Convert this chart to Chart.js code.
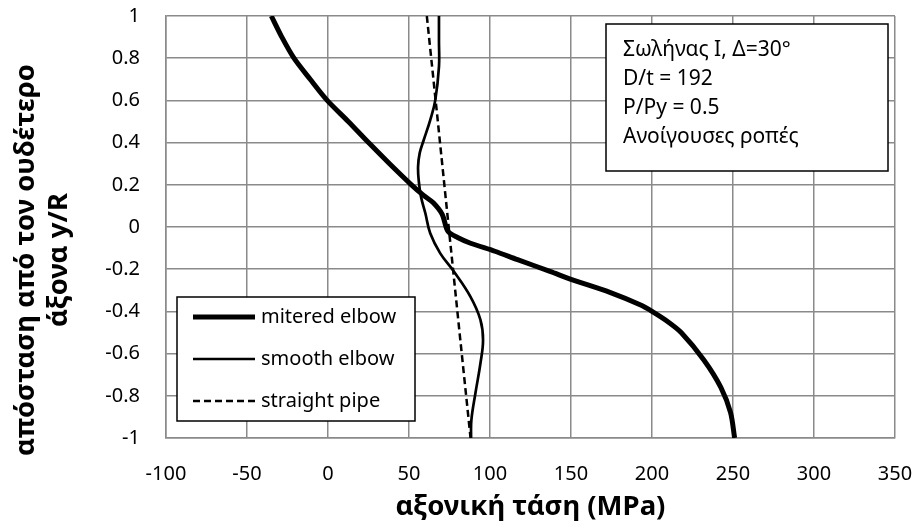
<!DOCTYPE html>
<html>
<head>
<meta charset="utf-8">
<script src="https://cdn.jsdelivr.net/npm/chart.js@4.4.1/dist/chart.umd.min.js"></script>
<style>
  html, body { margin: 0; padding: 0; background: #fff; }
  canvas { display: block; }
</style>
</head>
<body>
<canvas id="stress" width="915" height="529"></canvas>
<script>
// axial stress (MPa) along the section depth y/R
const miteredX = [-35, -28.5, -21, -11, -0.5, 12.5, 25, 38, 51.5, 59, 65, 70.5, 74, 80, 88, 103, 117, 137, 150, 174, 193, 200, 210, 218, 232, 242.5, 248.5, 251];
const miteredY = [1, 0.9, 0.8, 0.7, 0.6, 0.5, 0.4, 0.3, 0.2, 0.15, 0.115, 0.06, -0.02, -0.05, -0.077, -0.115, -0.155, -0.21, -0.248, -0.31, -0.37, -0.4, -0.45, -0.5, -0.63, -0.76, -0.88, -1];

const smoothX = [68.5, 68.5, 68.5, 66.2, 63.1, 59, 56.6, 55.6, 56, 57.4, 60.1, 63.1, 69.3, 77.6, 87.9, 94.1, 95.7, 94.1, 91, 88.5, 88.3];
const smoothY = [1, 0.88, 0.76, 0.6, 0.507, 0.41, 0.35, 0.286, 0.22, 0.144, 0.065, -0.03, -0.125, -0.21, -0.33, -0.44, -0.536, -0.646, -0.788, -0.915, -1];

const straightX = [61, 67.8, 74.5, 81.2, 88];
const straightY = [1, 0.5, 0, -0.5, -1];

const xTickValues = [-100, -50, 0, 50, 100, 150, 200, 250, 300, 350];
const yTickValues = [-1, -0.8, -0.6, -0.4, -0.2, 0, 0.2, 0.4, 0.6, 0.8, 1];

const seriesNames = ["mitered elbow", "smooth elbow", "straight pipe"];
const infoLines = ["Σωλήνας I, Δ=30°", "D/t = 192", "P/Py = 0.5", "Ανοίγουσες ροπές"];
const xTitle = "αξονική τάση (MPa)";
const yTitle = ["απόσταση από τον ουδέτερο", "άξονα y/R"];

const FONT = "'Noto Sans', sans-serif";
const GRID = "#8a8a8a";

function toPoints(xs, ys) {
    return xs.map((x, i) => ({ x: x, y: ys[i] }));
}

// labels may hang over the edges, keep the plot box where it is
function noLabelPadding(s) {
    s.paddingTop = 0;
    s.paddingBottom = 0;
    s.paddingLeft = 0;
    s.paddingRight = 0;
}

// legend, info box and axis titles painted on top of the plot
const overlay = {
    id: "overlay",
    afterDraw(chart) {
        const ctx = chart.ctx;
        ctx.save();

        // info box
        ctx.fillStyle = "#fff";
        ctx.fillRect(606, 24, 282, 147);
        ctx.strokeStyle = "#000";
        ctx.lineWidth = 1.5;
        ctx.strokeRect(606, 24, 282, 147);
        ctx.fillStyle = "#000";
        ctx.font = "21px " + FONT;
        ctx.textAlign = "left";
        ctx.textBaseline = "alphabetic";
        infoLines.forEach((t, i) => ctx.fillText(t, 623, 56 + i * 29));

        // legend
        ctx.fillStyle = "#fff";
        ctx.fillRect(177, 297, 238, 124);
        ctx.strokeRect(177, 297, 238, 124);
        ctx.font = "20px " + FONT;
        chart.data.datasets.forEach((ds, i) => {
            const y = 317 + i * 42;
            ctx.beginPath();
            ctx.setLineDash(ds.borderDash || []);
            ctx.lineWidth = ds.borderWidth;
            ctx.strokeStyle = ds.borderColor;
            ctx.moveTo(193, y);
            ctx.lineTo(255, y);
            ctx.stroke();
            ctx.setLineDash([]);
            ctx.fillStyle = "#000";
            ctx.textBaseline = "middle";
            ctx.fillText(ds.label, 261, y);
        });

        // axis titles
        ctx.fillStyle = "#000";
        ctx.font = "bold 27.5px " + FONT;
        ctx.textAlign = "center";
        ctx.textBaseline = "alphabetic";
        const area = chart.chartArea;
        ctx.fillText(xTitle, (area.left + area.right) / 2, 515);

        ctx.translate(0, 260);
        ctx.rotate(-Math.PI / 2);
        ctx.fillText(yTitle[0], 0, 34);
        ctx.fillText(yTitle[1], 0, 67);
        ctx.restore();
    }
};

new Chart(document.getElementById("stress").getContext("2d"), {
    type: "scatter",
    data: {
        datasets: [
            {
                label: seriesNames[0],
                data: toPoints(miteredX, miteredY),
                showLine: true,
                borderColor: "#000",
                borderWidth: 5,
                tension: 0.3,
                pointRadius: 0
            },
            {
                label: seriesNames[1],
                data: toPoints(smoothX, smoothY),
                showLine: true,
                borderColor: "#000",
                borderWidth: 2.7,
                tension: 0.4,
                pointRadius: 0
            },
            {
                label: seriesNames[2],
                data: toPoints(straightX, straightY),
                showLine: true,
                borderColor: "#000",
                borderWidth: 2.5,
                borderDash: [7, 4],
                tension: 0,
                pointRadius: 0
            }
        ]
    },
    options: {
        responsive: false,
        animation: false,
        devicePixelRatio: 1,
        layout: { padding: { left: 0, right: 20, top: 16, bottom: 0 } },
        plugins: {
            legend: { display: false },
            tooltip: { enabled: false }
        },
        scales: {
            x: {
                type: "linear",
                min: -100,
                max: 350,
                afterFit: s => { s.height = 91; noLabelPadding(s); },
                afterBuildTicks: s => { s.ticks = xTickValues.map(v => ({ value: v })); },
                grid: { color: GRID, lineWidth: 1.5, drawTicks: false },
                border: { color: GRID, width: 1.5 },
                ticks: {
                    color: "#000",
                    padding: 24,
                    maxRotation: 0,
                    font: { family: FONT, size: 20 },
                    callback: v => String(v)
                }
            },
            y: {
                type: "linear",
                min: -1,
                max: 1,
                afterFit: s => { s.width = 166; noLabelPadding(s); },
                afterBuildTicks: s => { s.ticks = yTickValues.map(v => ({ value: v })); },
                grid: { color: GRID, lineWidth: 1.5, drawTicks: false },
                border: { color: GRID, width: 1.5 },
                ticks: {
                    color: "#000",
                    padding: 26,
                    font: { family: FONT, size: 20 },
                    callback: v => String(Math.round(v * 10) / 10)
                }
            }
        }
    },
    plugins: [overlay]
});
</script>
</body>
</html>
